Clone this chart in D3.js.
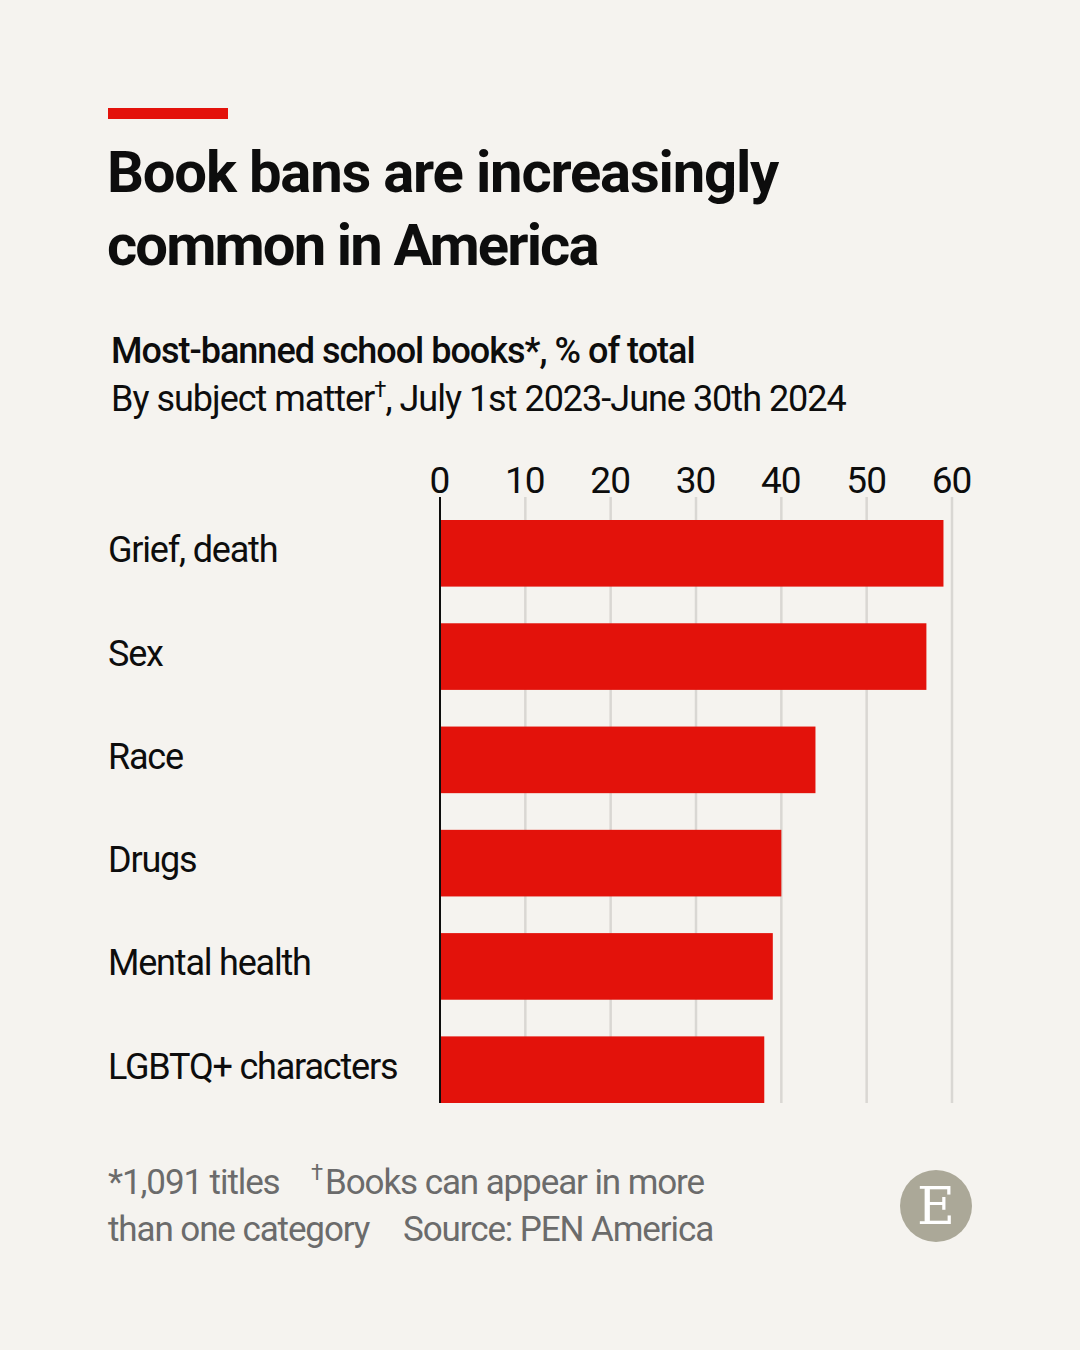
<!DOCTYPE html>
<html>
<head>
<meta charset="utf-8">
<script src="https://cdn.jsdelivr.net/npm/d3@7"></script>
<style>
  html, body { margin: 0; padding: 0; background: #f5f3ef; }
  svg { display: block; font-family: Roboto, "Noto Sans", sans-serif; }
</style>
</head>
<body>
<div id="chart"></div>
<script>
const categories = ["Grief, death", "Sex", "Race", "Drugs", "Mental health", "LGBTQ+ characters"];
const shares = [59, 57, 44, 40, 39, 38];
const xTicks = [0, 10, 20, 30, 40, 50, 60];

const width = 1080, height = 1350;
const margin = {top: 520, left: 440, right: 128, bottom: 247};

const svg = d3.select("#chart")
    .append("svg")
    .attr("width", width)
    .attr("height", height);

svg.append("rect")
    .attr("width", width)
    .attr("height", height)
    .attr("fill", "#f5f3ef");

// red tag at top
svg.append("rect")
    .attr("x", 108).attr("y", 108)
    .attr("width", 120).attr("height", 11)
    .attr("fill", "#e3120b");

// title
const title = svg.append("text")
    .attr("font-size", 58)
    .attr("font-weight", 700)
    .attr("fill", "#0d0d0d");
title.append("tspan").attr("x", 107).attr("y", 192)
    .attr("letter-spacing", -1.2).text("Book bans are increasingly");
title.append("tspan").attr("x", 107).attr("y", 265)
    .attr("letter-spacing", -1.9).text("common in America");

// subtitle
svg.append("text")
    .attr("x", 111).attr("y", 363)
    .attr("font-size", 36)
    .attr("font-weight", 500)
    .attr("letter-spacing", -1)
    .attr("fill", "#0d0d0d")
    .text("Most-banned school books*, % of total");

const sub2 = svg.append("text")
    .attr("x", 111).attr("y", 411)
    .attr("font-size", 36)
    .attr("letter-spacing", -1)
    .attr("fill", "#0d0d0d");
sub2.append("tspan").text("By subject matter");
sub2.append("tspan").attr("dy", -14).attr("font-size", 22).text("\u2020");
sub2.append("tspan").attr("dy", 14).text(", July 1st 2023-June 30th 2024");

// scales
const x = d3.scaleLinear()
    .domain([0, 60])
    .range([margin.left, 952]);

const y = d3.scaleBand()
    .domain(categories)
    .range([520, 1103])
    .paddingInner(0.355)
    .paddingOuter(0);

const g = svg.append("g");

// gridlines
g.selectAll(".grid")
    .data(xTicks.filter(d => d > 0))
    .join("line")
    .attr("class", "grid")
    .attr("x1", d => x(d)).attr("x2", d => x(d))
    .attr("y1", 497).attr("y2", 1103)
    .attr("stroke", "#d9d7d3")
    .attr("stroke-width", 2.5);

// top axis tick labels
const xAxis = d3.axisTop(x)
    .tickValues(xTicks)
    .tickSize(0)
    .tickPadding(0)
    .tickFormat(d3.format("d"));

g.append("g")
    .attr("transform", "translate(-1,493)")
    .call(xAxis)
    .call(a => a.select(".domain").remove())
    .call(a => a.selectAll("text")
        .attr("font-family", "Roboto, sans-serif")
        .attr("font-size", 37)
        .attr("letter-spacing", -1)
        .attr("fill", "#0d0d0d"));

// bars
g.selectAll(".bar")
    .data(shares)
    .join("rect")
    .attr("class", "bar")
    .attr("x", x(0))
    .attr("y", (d, i) => y(categories[i]))
    .attr("width", d => x(d) - x(0))
    .attr("height", y.bandwidth())
    .attr("fill", "#e3120b");

// zero line
g.append("line")
    .attr("x1", x(0)).attr("x2", x(0))
    .attr("y1", 497).attr("y2", 1103)
    .attr("stroke", "#0d0d0d")
    .attr("stroke-width", 2);

// category labels
g.selectAll(".cat")
    .data(categories)
    .join("text")
    .attr("class", "cat")
    .attr("x", 108)
    .attr("y", d => y(d) + y.bandwidth() / 2 - 3)
    .attr("dominant-baseline", "central")
    .attr("font-size", 36)
    .attr("letter-spacing", -1.2)
    .attr("fill", "#0d0d0d")
    .text(d => d);

// footnotes
const foot = svg.append("g")
    .attr("font-size", 35)
    .attr("letter-spacing", -1.1)
    .attr("fill", "#6b6b6b");
foot.append("text").attr("x", 108).attr("y", 1194).text("*1,091 titles");
const f2 = foot.append("text").attr("x", 311).attr("y", 1194);
f2.append("tspan").attr("dy", -14).attr("font-size", 22).text("\u2020");
f2.append("tspan").attr("dy", 14).attr("dx", 3).text("Books can appear in more");
foot.append("text").attr("x", 108).attr("y", 1241).text("than one category");
foot.append("text").attr("x", 403).attr("y", 1241).text("Source: PEN America");

// logo
svg.append("circle")
    .attr("cx", 936).attr("cy", 1206)
    .attr("r", 36)
    .attr("fill", "#aba898");
svg.append("text")
    .attr("x", 936).attr("y", 1224)
    .attr("text-anchor", "middle")
    .attr("font-family", "'DejaVu Serif', 'Liberation Serif', serif")
    .attr("font-size", 52)
    .attr("fill", "#ffffff")
    .text("E");
</script>
</body>
</html>
